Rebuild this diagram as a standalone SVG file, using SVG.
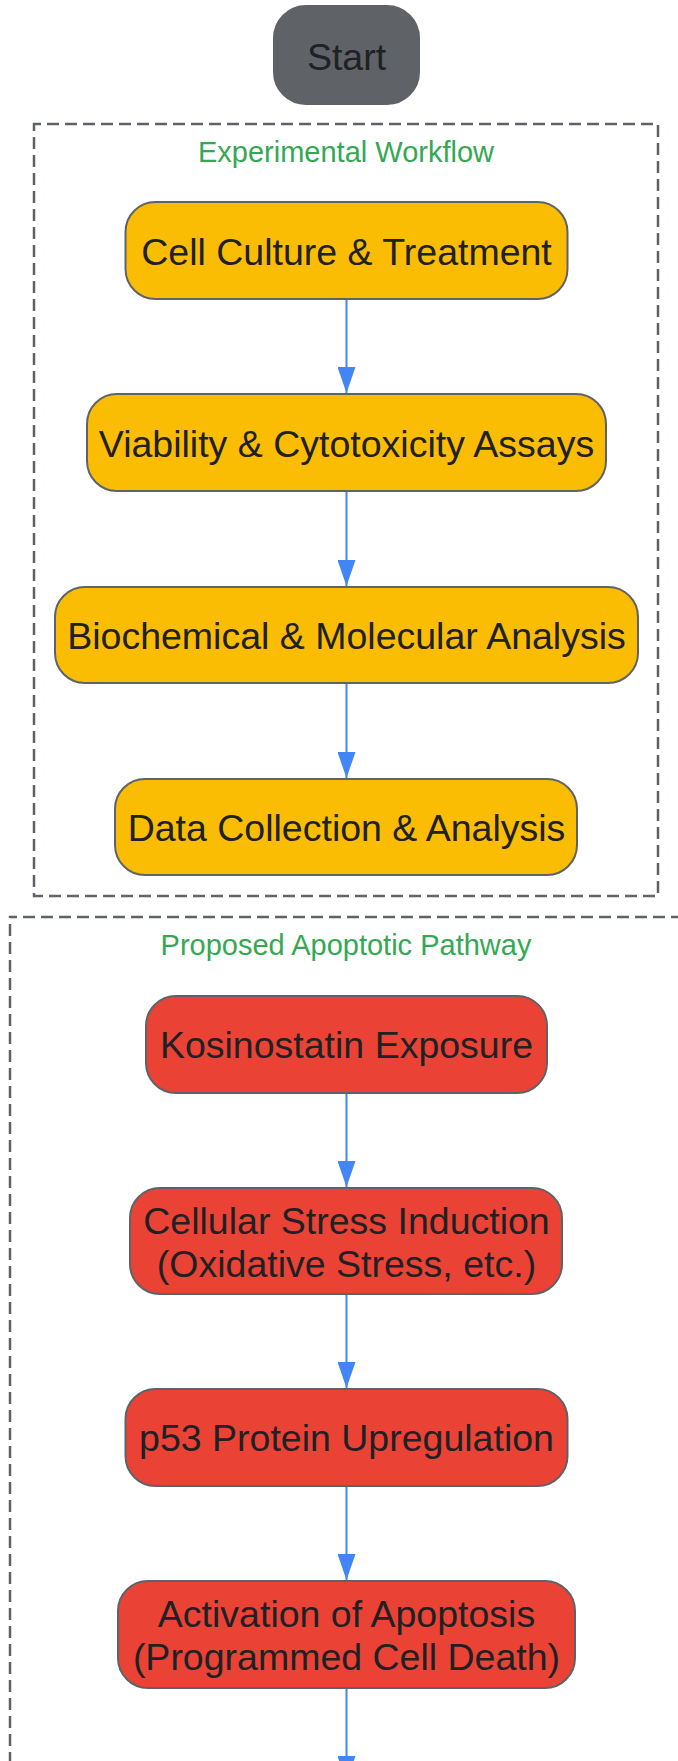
<svg xmlns="http://www.w3.org/2000/svg" width="678" height="1761" viewBox="0 0 678 1761">
<style>
.cluster{fill:none;stroke:#5f6368;stroke-width:2.5;stroke-dasharray:12 6;stroke-dashoffset:5}
.clabel{font-family:"Liberation Sans",Arial,sans-serif;font-size:29px;fill:#34a853;text-anchor:middle}
.node rect{stroke:#5f6368;stroke-width:2}
.yellow rect{fill:#fbbc04}
.red rect{fill:#ea4335}
.gray rect{fill:#5f6368;stroke:#5f6368}
.node text{font-family:"Liberation Sans",Arial,sans-serif;font-size:37.5px;fill:#202124;text-anchor:middle}
.edge{stroke:#4285f4;stroke-width:2;fill:none;marker-end:url(#arrow)}
</style>
<defs>
<marker id="arrow" markerUnits="userSpaceOnUse" markerWidth="26" markerHeight="18" refX="26" refY="9" orient="auto">
<path d="M0,0 L26,9 L0,18 z" fill="#4285f4"/>
</marker>
</defs>
<rect width="678" height="1761" fill="#ffffff"/>
<g id="cluster-workflow">
<rect class="cluster" x="34" y="124" width="624" height="772"/>
<text class="clabel" x="346" y="162">Experimental Workflow</text>
</g>
<g id="cluster-pathway">
<rect class="cluster" x="10" y="917" width="673" height="900"/>
<text class="clabel" x="346" y="955">Proposed Apoptotic Pathway</text>
</g>
<g id="connectors">
<line class="edge" x1="346.5" y1="299" x2="346.5" y2="393"/>
<line class="edge" x1="346.5" y1="491" x2="346.5" y2="586"/>
<line class="edge" x1="346.5" y1="683" x2="346.5" y2="778"/>
<line class="edge" x1="346.5" y1="1093" x2="346.5" y2="1187"/>
<line class="edge" x1="346.5" y1="1294" x2="346.5" y2="1388"/>
<line class="edge" x1="346.5" y1="1486" x2="346.5" y2="1580"/>
<line class="edge" x1="346.5" y1="1688" x2="346.5" y2="1782"/>
</g>
<g id="start" class="node gray">
<rect x="274" y="6" width="145" height="98" rx="32" ry="32"/>
<text x="346.5" y="70">Start</text>
</g>
<g id="cell-culture" class="node yellow">
<rect x="125.5" y="202" width="442" height="97" rx="30" ry="30"/>
<text x="346.5" y="265">Cell Culture &amp; Treatment</text>
</g>
<g id="viability" class="node yellow">
<rect x="87" y="394" width="519" height="97" rx="30" ry="30"/>
<text x="346.5" y="457">Viability &amp; Cytotoxicity Assays</text>
</g>
<g id="biochemical" class="node yellow">
<rect x="55" y="587" width="583" height="96" rx="30" ry="30"/>
<text x="346.5" y="649">Biochemical &amp; Molecular Analysis</text>
</g>
<g id="data-collection" class="node yellow">
<rect x="115" y="779" width="462" height="96" rx="30" ry="30"/>
<text x="346.5" y="841">Data Collection &amp; Analysis</text>
</g>
<g id="kosinostatin" class="node red">
<rect x="146" y="996" width="401" height="97" rx="30" ry="30"/>
<text x="346.5" y="1058">Kosinostatin Exposure</text>
</g>
<g id="cellular-stress" class="node red">
<rect x="130" y="1188" width="432" height="106" rx="30" ry="30"/>
<text x="346.5" y="1234">Cellular Stress Induction</text>
<text x="346.5" y="1277">(Oxidative Stress, etc.)</text>
</g>
<g id="p53" class="node red">
<rect x="125.5" y="1389" width="442" height="97" rx="30" ry="30"/>
<text x="346.5" y="1451">p53 Protein Upregulation</text>
</g>
<g id="apoptosis" class="node red">
<rect x="118" y="1581" width="457" height="107" rx="30" ry="30"/>
<text x="346.5" y="1627">Activation of Apoptosis</text>
<text x="346.5" y="1670">(Programmed Cell Death)</text>
</g>
</svg>
